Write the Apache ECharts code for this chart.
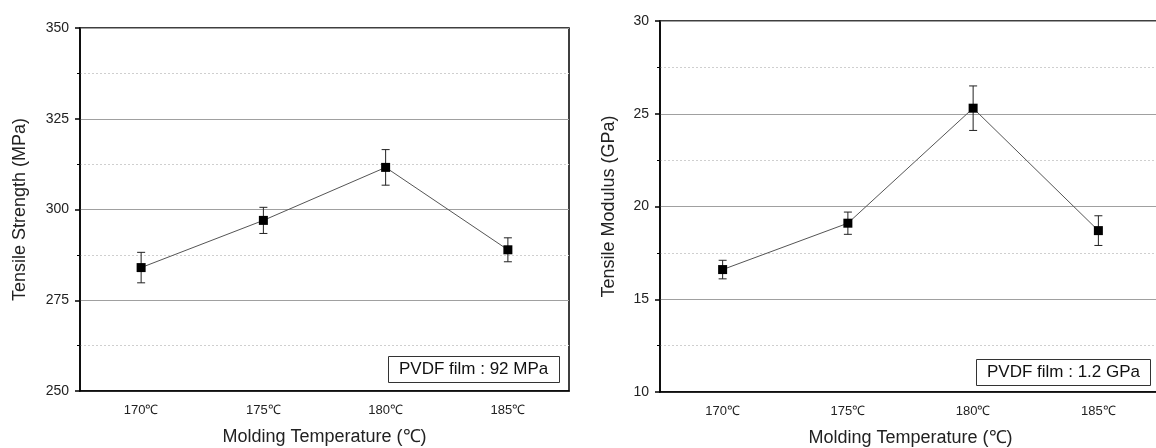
<!DOCTYPE html>
<html>
<head>
<meta charset="utf-8">
<script src="https://cdn.jsdelivr.net/npm/echarts@6/dist/echarts.min.js"></script>
<style>
  html, body { margin: 0; padding: 0; background: #fff; }
  #chart { width: 1156px; height: 448px; }
</style>
</head>
<body>
<div id="chart"></div>
<script>
// data
const temps = ["170℃", "175℃", "180℃", "185℃"];
const strength = [284.0, 297.0, 311.6, 288.9];
const strengthErr = [4.2, 3.6, 4.9, 3.3];
const modulus = [16.6, 19.1, 25.3, 18.7];
const modulusErr = [0.5, 0.6, 1.2, 0.8];
const strengthAxis = { min: 250, max: 350, interval: 25 };
const modulusAxis = { min: 10, max: 30, interval: 5 };

const font = "'Liberation Sans', Arial, sans-serif";

// vertical bar with caps for each point
function errorBar(params, api) {
  const i = api.value(0);
  const v = api.value(1);
  const e = api.value(2);
  const hi = api.coord([i, v + e]);
  const lo = api.coord([i, v - e]);
  const w = 4;
  const style = { stroke: "#222", lineWidth: 1 };
  return {
    type: "group",
    children: [
      { type: "line", shape: { x1: hi[0], y1: hi[1], x2: lo[0], y2: lo[1] }, style },
      { type: "line", shape: { x1: hi[0] - w, y1: hi[1], x2: hi[0] + w, y2: hi[1] }, style },
      { type: "line", shape: { x1: lo[0] - w, y1: lo[1], x2: lo[0] + w, y2: lo[1] }, style },
    ],
  };
}

function xAxis(gridIndex) {
  return {
    type: "category",
    gridIndex,
    data: temps,
    boundaryGap: true,
    name: "Molding Temperature (℃)",
    nameLocation: "middle",
    nameGap: 37,
    nameTextStyle: { fontFamily: font, fontSize: 18, color: "#222" },
    axisLine: { lineStyle: { color: "#000", width: 1.5 } },
    axisTick: { alignWithLabel: true, inside: false, length: 5, lineStyle: { color: "#000", width: 1.5 } },
    axisLabel: { fontFamily: font, fontSize: 13, color: "#222", margin: 13 },
    splitLine: { show: false },
  };
}

function yAxis(gridIndex, range, title, gap) {
  return {
    type: "value",
    gridIndex,
    min: range.min,
    max: range.max,
    interval: range.interval,
    name: title,
    nameLocation: "middle",
    nameGap: gap,
    nameTextStyle: { fontFamily: font, fontSize: 18, color: "#222" },
    axisLine: { show: true, lineStyle: { color: "#000", width: 1.5 } },
    axisTick: { show: true, length: 5, lineStyle: { color: "#000", width: 1.5 } },
    minorTick: { show: true, splitNumber: 2, length: 3, lineStyle: { color: "#000", width: 1 } },
    axisLabel: { fontFamily: font, fontSize: 14, color: "#222", margin: 11 },
    splitLine: { show: true, lineStyle: { color: "#a0a0a0", width: 1 } },
    minorSplitLine: { show: true, lineStyle: { color: "#cfcfcf", width: 1, type: [2, 2] } },
  };
}

function lineSeries(idx, values) {
  return {
    type: "line",
    xAxisIndex: idx,
    yAxisIndex: idx,
    data: values,
    symbol: "rect",
    symbolSize: 9,
    itemStyle: { color: "#000" },
    lineStyle: { color: "#555", width: 1 },
    z: 3,
  };
}

function barSeries(idx, values, errs) {
  return {
    type: "custom",
    xAxisIndex: idx,
    yAxisIndex: idx,
    renderItem: errorBar,
    encode: { x: 0, y: 1 },
    data: values.map((v, i) => [i, v, errs[i]]),
    z: 2,
  };
}

const boxText = { fontFamily: font, fontSize: 17, fontWeight: "normal", color: "#111" };

const chart = echarts.init(document.getElementById("chart"));
chart.setOption({
  animation: false,
  backgroundColor: "#fff",
  title: [
    {
      text: "PVDF film : 92 MPa",
      left: 388,
      top: 356,
      padding: [5, 11, 5, 11],
      borderColor: "#333",
      borderWidth: 1,
      textStyle: boxText,
    },
    {
      text: "PVDF film : 1.2 GPa",
      left: 976,
      top: 359,
      padding: [5, 11, 5, 11],
      borderColor: "#333",
      borderWidth: 1,
      textStyle: boxText,
    },
  ],
  grid: [
    { left: 80, top: 28, width: 489, height: 363, outerBoundsMode: "none", show: true, borderColor: "#000", borderWidth: 1.5 },
    { left: 660, top: 21, width: 501, height: 371, outerBoundsMode: "none", show: true, borderColor: "#000", borderWidth: 1.5 },
  ],
  xAxis: [xAxis(0), xAxis(1)],
  yAxis: [
    yAxis(0, strengthAxis, "Tensile Strength (MPa)", 51),
    yAxis(1, modulusAxis, "Tensile Modulus (GPa)", 42),
  ],
  series: [
    barSeries(0, strength, strengthErr),
    lineSeries(0, strength),
    barSeries(1, modulus, modulusErr),
    lineSeries(1, modulus),
  ],
});
</script>
</body>
</html>
